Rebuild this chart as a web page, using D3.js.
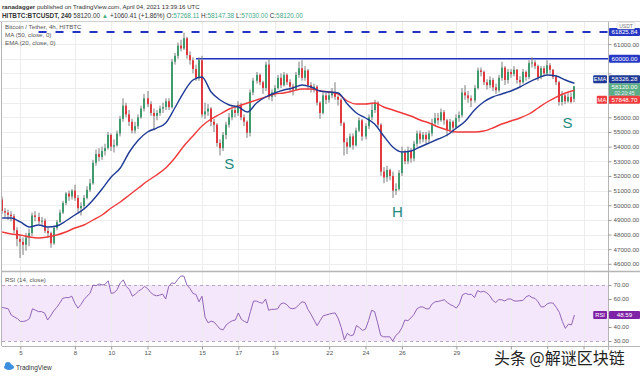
<!DOCTYPE html>
<html><head><meta charset="utf-8">
<script src="https://cdn.jsdelivr.net/npm/d3@7/dist/d3.min.js"></script>
<style>
html,body{margin:0;padding:0;background:#fff;overflow:hidden}
svg{display:block}
text{font-family:"Liberation Sans",Arial,sans-serif}
</style></head><body>
<svg id="chart" width="640" height="376"></svg>
<script>
// ---------------- DATA ----------------
const firstCandleUTC = Date.UTC(2021, 2, 4, 0, 0); // Mar 4 2021 00:00 UTC, 4h candles
const candleHours = 4;

const opens = [
50400,49600,49500,49350,49250,48300,47700,47500,47300,47800,
48100,49300,49200,48900,48950,48250,48100,47400,48450,48850,
49500,50150,50800,50600,51000,50500,49800,49950,50500,51050,
51500,52900,53500,53300,53700,53900,54800,54000,54100,54900,
55900,56800,56200,55700,55100,55400,56000,56600,57300,56900,
56300,56100,56300,56600,56700,57100,56700,59800,60200,60900,
60700,61400,60250,59900,59300,58700,59900,56200,56400,56600,
55700,55500,54250,53900,54800,55500,56000,56500,56300,56850,
56000,55700,54950,57700,58500,58900,58400,58000,59600,57400,
57700,58000,58700,58200,58900,58400,58100,57900,58900,59350,
58700,59200,58200,58000,58100,57000,56300,57500,57200,57500,
57700,57400,57200,55600,54300,54000,54700,54100,55100,55800,
54700,55400,56000,56500,57000,55500,52300,51900,52400,52000,
51000,51100,52200,53600,53000,53700,53200,54200,54900,54500,
54800,54500,54900,55600,55950,55800,56350,55800,55150,55700,
55300,55950,56150,57700,57500,57300,57150,58000,59200,59100,
58400,58200,58550,58050,57850,58700,59400,58550,59100,58950,
59250,58550,58400,59100,58750,59700,59750,59500,58750,59350,
59000,59550,59250,58750,58400,57050,57500,57100,57400,57268.11];

const highs = [
50600,49800,49700,49600,49400,48500,48000,47800,48100,48400,
49500,49600,49500,49200,49100,48500,48200,48600,49000,49700,
50300,50900,51000,51100,51400,50700,50200,50700,51300,51800,
53100,53800,53900,54000,54200,55000,54900,54500,55100,56100,
57300,57000,56500,55900,55700,56200,56800,57600,57800,57100,
56600,56500,56800,57000,57300,57300,60000,60400,61100,61300,
61780,61500,60500,60100,59600,60100,60200,57000,56900,56700,
55900,55600,54500,55000,55700,56300,56800,56800,57100,57000,
56200,55800,57900,58700,59100,59000,58500,59800,60000,57900,
58200,58900,59000,59100,59000,58600,58300,59100,59800,59900,
59500,59300,58400,58300,58200,57100,57700,57700,57800,58000,
58400,57500,57300,55700,54600,54900,54900,55300,56000,55900,
55600,56200,57000,57200,57100,55600,52600,52700,52500,52300,
51500,52400,54000,53800,54000,53900,54400,55100,55100,55000,
55000,55100,55900,56300,56300,56600,56500,55900,55900,55800,
56200,56400,58000,58200,57800,57500,58200,59400,59400,59200,
58600,58800,58700,58300,58900,59800,59500,59300,59300,59500,
59300,58800,59300,59200,59900,60100,59900,59600,59500,59500,
59900,59700,59300,58900,58500,57800,57600,57700,57700,58147.38];

const lows = [
49400,49200,49000,48900,48100,47200,46400,46600,46900,47200,
47900,48900,48700,48600,48100,47800,47100,47300,48300,48800,
49400,50000,50300,50400,50300,49500,49300,49700,50400,50900,
51400,52700,53000,53100,53400,53800,53700,53600,54000,54700,
55700,56000,55400,54900,54900,55200,55900,56400,56700,56100,
55100,55800,56100,56300,56500,56500,56600,59600,60000,60500,
60600,60000,59600,59000,58500,58500,56000,55900,56100,55400,
55000,54000,53400,53700,54500,55300,55800,56000,56100,55800,
55400,54600,54700,57500,58300,58200,57600,57800,57200,57100,
57400,57900,58000,58100,58200,57700,57500,57800,58700,58500,
58500,57900,57700,57700,56800,55900,56200,56900,57000,57300,
57200,56800,55400,53400,53500,53900,53800,54000,55000,54400,
54500,55200,55800,56300,55300,52000,51500,51600,51700,50500,
50700,51000,52000,52800,52800,52900,53000,54000,54200,54300,
54200,54300,54700,55400,55500,55700,55500,54700,55000,54900,
55200,55700,56000,57200,57000,56700,57000,57900,58800,58200,
57900,58000,57800,57600,57700,58500,58200,58300,58700,58800,
58300,58100,58300,58500,58600,59400,59300,58500,58600,58800,
58900,59000,58600,58200,56800,56800,56900,57000,56950,57030];

const closes = [
49600,49500,49350,49250,48300,47700,47500,47300,47800,48100,
49300,49200,48900,48950,48250,48100,47400,48450,48850,49500,
50150,50800,50600,51000,50500,49800,49950,50500,51050,51500,
52900,53500,53300,53700,53900,54800,54000,54100,54900,55900,
56800,56200,55700,55100,55400,56000,56600,57300,56900,56300,
56100,56300,56600,56700,57100,56700,59800,60200,60900,60700,
61400,60250,59900,59300,58700,59900,56200,56400,56600,55700,
55500,54250,53900,54800,55500,56000,56500,56300,56850,56000,
55700,54950,57700,58500,58900,58400,58000,59600,57400,57700,
58000,58700,58200,58900,58400,58100,57900,58900,59350,58700,
59200,58200,58000,58100,57000,56300,57500,57200,57500,57700,
57400,57200,55600,54300,54000,54700,54100,55100,55800,54700,
55400,56000,56500,57000,55500,52300,51900,52400,52000,51000,
51100,52200,53600,53000,53700,53200,54200,54900,54500,54800,
54500,54900,55600,55950,55800,56350,55800,55150,55700,55300,
55950,56150,57700,57500,57300,57150,58000,59200,59100,58400,
58200,58550,58050,57850,58700,59400,58550,59100,58950,59250,
58550,58400,59100,58750,59700,59750,59500,58750,59350,59000,
59550,59250,58750,58400,57050,57500,57100,57400,57059.59,58120];

// EMA(20) and MA(50), read every 3rd candle
const emaEvery3 = [49130,49130,48857,48515,48652,48515,48584,48925,49334,49744,
50358,51109,51928,52543,53635,54454,55000,55273,55614,56638,
57730,58550,58754,57730,57184,56843,56707,56365,56980,57389,
57662,57867,58003,58208,58072,57799,57730,57662,56911,56297,
55956,55546,54727,53976,53635,53703,53976,54249,54522,54795,
55273,55751,56502,57048,57389,57594,57799,58072,58413,58686,
58891,58823,58550,58326.28];
const maEvery3 = [48174,48037,47969,47833,47764,47833,47969,48174,48447,48652,
48993,49334,49812,50222,50700,51177,51655,52065,52543,53225,
54044,54727,55410,55887,56229,56570,56775,56980,57184,57389,
57594,57662,57799,57935,57935,57799,57730,57594,57116,56911,
56911,56980,56707,56502,56297,56092,55819,55614,55341,55137,
55000,55000,55000,55068,55273,55546,55751,55956,56229,56638,
57048,57389,57662,57848.70];

// RSI(14) per candle
const rsi14 = [
54,53.5,53,48.5,47.2,46,44,44,44.5,46,
53,52,51,51,50,45,48,51.5,54,57,
60.5,61,61,62,57,53.5,56,59.5,62,64,
70,69.5,70.8,70,70.5,73,64,64.5,66.8,71.5,
73.6,69,66.8,62,63.5,65.6,67,69,67.5,64.7,
63,62.3,62.8,63.5,60,69,71.5,71,74,76.4,
76.4,70,67.6,64,63.2,58,62,47,43,44.2,
43.5,41,38.5,38,41.5,43.2,44.5,45,50,45.5,
44,43,51,58.5,58.5,57.5,57,60,52,52.6,
52.6,53,56.5,57.2,56,53.5,53,53.7,56,58,
57.5,52.5,49,45,41,44.5,48,48.6,49.2,49.8,
50,46,39.5,31,35.5,33.8,34.3,41,39.5,37.6,
38.5,44.5,52,51,43,34,33,33,33,30,
34,35.8,39.5,45,44.5,46.5,49,53,54.3,54.3,
53,53,56.5,58,58.3,58.8,59.5,57.5,56,55,
53.5,56.5,63,64,63.3,63.3,61,66,65,65.5,
64.5,62.5,59,57.5,59.5,59.5,58.6,60,60,58.7,
58.5,58.8,59,61.5,62.5,61,60.4,58,54.3,54.5,
56.5,57.3,57,54,50.5,44,39,42,41.5,48.59];

const priceTicks = [46000,47000,48000,49000,50000,51000,52000,53000,54000,55000,56000,57000,58000,59000,60000,61000];
const rsiTicks = [30,40,50,60,70];
const rsiBand = [30,70];
// grid dates; the last three labels sit under the watermark in the original
const xTickDates = ['2021-03-05','2021-03-08','2021-03-10','2021-03-12','2021-03-15','2021-03-17','2021-03-19','2021-03-22','2021-03-24','2021-03-26','2021-03-29','2021-04-01','2021-04-03','2021-04-05'];
const xTickLabels = ['5','8','10','12','15','17','19','22','24','26','29'];

const levelValues = [61825.84, 60000];
const levelStarts = ['2021-03-06T00:00Z','2021-03-14T16:00Z'];
const levelDashed = [true, false];

const patternLabels = ['S','H','S'];
const patternTimes = ['2021-03-16T12:00Z','2021-03-25T18:00Z','2021-04-04T03:00Z'];
const patternPrices = [52450, 49200, 55270];

// ---------------- CHART ----------------
const svg = d3.select('#chart');
const L = 2, R = 608, PT = 22, PB = 271, RT = 272, RB = 346;
const x = d3.scaleUtc()
  .domain([new Date(Date.UTC(2021,2,3,23,45)), new Date(Date.UTC(2021,3,6,8,20))])
  .range([L, R]);
const y = d3.scaleLinear().domain([45512, 62509]).range([PB, PT]);
const yr = d3.scaleLinear().domain([26.43, 79.29]).range([RB, RT]);
const tOf = i => new Date(firstCandleUTC + i * candleHours * 3600e3);
const candles = closes.map((c, i) => ({t: tOf(i), o: opens[i], h: highs[i], l: lows[i], c, r: rsi14[i]}));
const tickDates = xTickDates.map(s => new Date(s + 'T00:00Z'));

const UP = '#3f9a6d', DOWN = '#e03a40', WICK = '#7d7d7d';
const BLUE = '#2233c4', EMA_C = '#1f3a96', MA_C = '#f0393b', RSI_C = '#9165b8', TEAL = '#1d8a80';

const defs = svg.append('defs');
defs.append('clipPath').attr('id','clipP').append('rect').attr('x',L).attr('y',PT).attr('width',R-L).attr('height',PB-PT);
defs.append('clipPath').attr('id','clipR').append('rect').attr('x',L).attr('y',RT).attr('width',R-L).attr('height',RB-RT);

// RSI band
svg.append('rect').attr('x',L).attr('width',R-L)
  .attr('y',yr(rsiBand[1])).attr('height',yr(rsiBand[0])-yr(rsiBand[1]))
  .attr('fill','#f4e7fb');

// grid
const grid = svg.append('g').attr('stroke','#ededed').attr('stroke-width',1);
grid.selectAll('line.h').data(priceTicks).join('line').attr('class','h')
  .attr('x1',L).attr('x2',R).attr('y1',d=>Math.round(y(d))+0.5).attr('y2',d=>Math.round(y(d))+0.5);
grid.selectAll('line.v').data(tickDates).join('line').attr('class','v')
  .attr('x1',d=>Math.round(x(d))+0.5).attr('x2',d=>Math.round(x(d))+0.5).attr('y1',PT).attr('y2',RB);

// RSI dashed levels
svg.append('g').selectAll('line').data(rsiBand).join('line')
  .attr('x1',L).attr('x2',R).attr('y1',d=>Math.round(yr(d))+0.5).attr('y2',d=>Math.round(yr(d))+0.5)
  .attr('stroke','#b9a6c6').attr('stroke-dasharray','3,3').attr('stroke-width',1);

// level lines
const lv = svg.append('g').attr('clip-path','url(#clipP)');
levelValues.forEach((v,i)=>{
  lv.append('line').attr('x1',x(new Date(levelStarts[i]))).attr('x2',R)
    .attr('y1',y(v)).attr('y2',y(v)).attr('stroke',BLUE).attr('stroke-width',levelDashed[i]?2:1.6)
    .attr('stroke-dasharray',levelDashed[i]?'8,9':null);
});

// candles
const cg = svg.append('g').attr('clip-path','url(#clipP)');
cg.selectAll('line.w').data(candles).join('line').attr('class','w')
  .attr('x1',d=>Math.round(x(d.t))).attr('x2',d=>Math.round(x(d.t)))
  .attr('y1',d=>y(d.h)).attr('y2',d=>y(d.l)).attr('stroke',WICK).attr('stroke-width',1);
cg.selectAll('rect.b').data(candles).join('rect').attr('class','b')
  .attr('x',d=>Math.round(x(d.t))-1).attr('width',2)
  .attr('y',d=>y(Math.max(d.o,d.c)))
  .attr('height',d=>Math.max(1,Math.abs(y(d.o)-y(d.c))))
  .attr('fill',d=>d.c>=d.o?UP:DOWN);

// MA & EMA
const sampled = arr => arr.map((v,k)=>({t:tOf(k*3), v}));
const lineGen = d3.line().x(d=>x(d.t)).y(d=>y(d.v)).curve(d3.curveMonotoneX);
cg.append('path').datum(sampled(maEvery3)).attr('d',lineGen).attr('fill','none').attr('stroke',MA_C).attr('stroke-width',1.4);
cg.append('path').datum(sampled(emaEvery3)).attr('d',lineGen).attr('fill','none').attr('stroke',EMA_C).attr('stroke-width',1.4);

// RSI line
svg.append('g').attr('clip-path','url(#clipR)').append('path').datum(candles)
  .attr('d',d3.line().x(d=>x(d.t)).y(d=>yr(d.r)))
  .attr('fill','none').attr('stroke',RSI_C).attr('stroke-width',1);

// pattern labels
svg.append('g').selectAll('text').data(patternLabels).join('text')
  .attr('x',(d,i)=>x(new Date(patternTimes[i]))).attr('y',(d,i)=>y(patternPrices[i]))
  .attr('text-anchor','middle').attr('font-size',15).attr('fill',TEAL).text(d=>d);

// frame lines
const fr = svg.append('g').attr('stroke','#b5b5b5').attr('stroke-width',1);
fr.append('line').attr('x1',0).attr('x2',640).attr('y1',PT-0.5).attr('y2',PT-0.5).attr('stroke','#d0d0d0');
fr.append('line').attr('x1',L-0.5).attr('x2',L-0.5).attr('y1',PT).attr('y2',RB);
fr.append('line').attr('x1',L).attr('x2',640).attr('y1',PB+0.5).attr('y2',PB+0.5).attr('stroke-width',1.5);
fr.append('line').attr('x1',L).attr('x2',640).attr('y1',RB+0.5).attr('y2',RB+0.5);
fr.append('line').attr('x1',R+0.5).attr('x2',R+0.5).attr('y1',PT).attr('y2',RB+4);

// axes
function styleAxis(g){
  g.select('.domain').remove();
  g.selectAll('text').attr('font-size',6.2).attr('fill','#555').attr('font-family','"Liberation Sans",Arial,sans-serif');
  g.selectAll('line').attr('stroke','#999');
}
const pAxisG = svg.append('g').attr('transform',`translate(${R+0.5},0)`)
  .call(d3.axisRight(y).tickValues(priceTicks).tickFormat(d3.format('.2f')).tickSize(3).tickPadding(2))
  .call(styleAxis);
const rAxisG = svg.append('g').attr('transform',`translate(${R+0.5},0)`)
  .call(d3.axisRight(yr).tickValues(rsiTicks).tickFormat(d3.format('.2f')).tickSize(3).tickPadding(2))
  .call(styleAxis);
svg.append('g').attr('transform',`translate(0,${RB+0.5})`)
  .call(d3.axisBottom(x).tickValues(tickDates).tickFormat((d,i)=>xTickLabels[i] || '').tickSize(3).tickPadding(1.5))
  .call(styleAxis)
  .call(g=>g.selectAll('text').filter(function(){return !this.textContent;}).remove());

// badges on price axis
const badgeSpans = [];
function badge(yc, fill, txt, tag, h){
  h = h || 8;
  badgeSpans.push([yc-h/2, yc+h/2]);
  const g = svg.append('g');
  g.append('rect').attr('x',R+1).attr('y',yc-h/2).attr('width',31).attr('height',h).attr('fill',fill).attr('rx',1);
  g.append('text').attr('x',R+16.5).attr('y',yc+2.2).attr('text-anchor','middle').attr('font-size',6.2).attr('fill','#fff').text(txt);
  if(tag){
    const tw = tag.length*3.6+3;
    g.append('rect').attr('x',R-1-tw).attr('y',yc-h/2).attr('width',tw).attr('height',h).attr('fill',fill).attr('rx',1);
    g.append('text').attr('x',R-1-tw/2).attr('y',yc+2.2).attr('text-anchor','middle').attr('font-size',5.8).attr('fill','#fff').text(tag);
  }
}
const fmt = d3.format('.2f');
levelValues.forEach(v=>badge(y(v), '#2537c4', fmt(v)));
const lastClose = closes[closes.length-1], lastEma = emaEvery3[emaEvery3.length-1], lastMa = maEvery3[maEvery3.length-1];
const closeTop = y(lastClose) - 3, closeBot = closeTop + 12.5;
badgeSpans.push([closeTop, closeBot]);
const cb = svg.append('g');
cb.append('rect').attr('x',R+1).attr('y',closeTop).attr('width',31).attr('height',closeBot-closeTop).attr('fill','#5aad85');
cb.append('text').attr('x',R+16.5).attr('y',closeTop+6).attr('text-anchor','middle').attr('font-size',6.2).attr('fill','#fff').text(fmt(lastClose));
cb.append('text').attr('x',R+16.5).attr('y',closeTop+11.5).attr('text-anchor','middle').attr('font-size',5.2).attr('fill','#eef').text('02:20:45');
badge(Math.min(y(lastEma), closeTop-4), EMA_C, fmt(lastEma), 'EMA');
badge(Math.max(y(lastMa), closeBot+4), '#ee3b3d', fmt(lastMa), 'MA');
badge(yr(rsi14[rsi14.length-1]), '#7f23a6', fmt(rsi14[rsi14.length-1]), 'RSI');

// hide axis labels that sit behind a badge (as TradingView does)
[pAxisG, rAxisG].forEach(g=>g.selectAll('.tick').each(function(){
  const t = d3.select(this).attr('transform');
  const ty = +t.match(/,\s*([-\d.]+)/)[1];
  if (badgeSpans.some(([a,b]) => ty > a - 2.5 && ty < b + 2.5)) d3.select(this).select('text').remove();
}));

// USDT label
svg.append('rect').attr('x',R+9).attr('y',PT+0.5).attr('width',18).attr('height',6.5).attr('fill','#fff').attr('stroke','#ccc').attr('stroke-width',0.5).attr('rx',1.5);
svg.append('text').attr('x',R+18).attr('y',PT+5.5).attr('text-anchor','middle').attr('font-size',5).attr('fill','#777').text('USDT');

// legends
const lg = svg.append('g').attr('font-size',6.2).attr('fill','#555');
lg.append('text').attr('x',5).attr('y',29).text('Bitcoin / Tether, 4h, HITBTC');
lg.append('text').attr('x',5).attr('y',37).text('MA (50, close, 0)');
lg.append('text').attr('x',5).attr('y',45).text('EMA (20, close, 0)');
lg.append('text').attr('x',5).attr('y',282).text('RSI (14, close)');

// header
const h1 = svg.append('text').attr('x',2).attr('y',9).attr('font-size',6.1).attr('fill','#333');
h1.append('tspan').attr('font-weight','bold').text('ranadagger');
h1.append('tspan').text(' published on TradingView.com, April 04, 2021 13:39:16 UTC');
const h2 = svg.append('text').attr('x',2).attr('y',17.5).attr('font-size',6.4).attr('fill','#333');
h2.append('tspan').attr('font-weight','bold').text('HITBTC:BTCUSDT, 240');
h2.append('tspan').text('  58120.00 ');
h2.append('tspan').attr('fill','#4caf7d').text('▲');
h2.append('tspan').text(' +1060.41 (+1.86%) O:');
h2.append('tspan').attr('fill','#3fa98a').text('57268.11');
h2.append('tspan').text(' H:');
h2.append('tspan').attr('fill','#3fa98a').text('58147.38');
h2.append('tspan').text(' L:');
h2.append('tspan').attr('fill','#3fa98a').text('57030.00');
h2.append('tspan').text(' C:');
h2.append('tspan').attr('fill','#3fa98a').text('58120.00');

// TradingView logo
const logo = svg.append('g');
logo.append('ellipse').attr('cx',9).attr('cy',367).attr('rx',5).attr('ry',3).attr('fill','#3d8fe0');
logo.append('circle').attr('cx',8).attr('cy',365).attr('r',3).attr('fill','#3d8fe0');
logo.append('text').attr('x',16).attr('y',369.5).attr('font-size',6.5).attr('fill','#333').text('TradingView');

// watermark
svg.append('text').attr('x',494).attr('y',363.5)
  .attr('font-size',16)
  .attr('fill','#222').attr('stroke','#fff').attr('stroke-width',2.5).attr('paint-order','stroke')
  .style('font-family','"Noto Sans CJK SC",sans-serif')
  .text('头条 @解谜区块链');
</script>
</body></html>
